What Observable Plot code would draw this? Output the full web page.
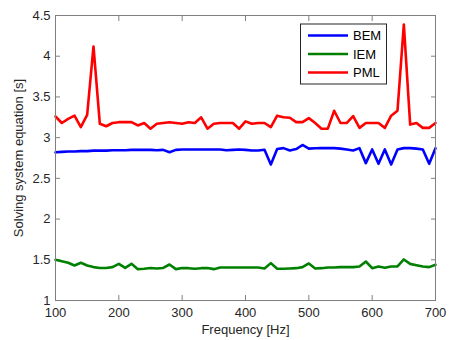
<!DOCTYPE html>
<html><head><meta charset="utf-8">
<script src="https://cdn.jsdelivr.net/npm/d3@7"></script>
<script src="https://cdn.jsdelivr.net/npm/@observablehq/plot@0.6"></script>
<style>body{margin:0;background:#fff}#chart{width:449px;height:340px}</style>
</head><body><div id="chart"></div>
<script>
const freq = [100,110,120,130,140,150,160,170,180,190,200,210,220,230,240,250,260,270,280,290,300,310,320,330,340,350,360,370,380,390,400,410,420,430,440,450,460,470,480,490,500,510,520,530,540,550,560,570,580,590,600,610,620,630,640,650,660,670,680,690,700];
const bem = [2.82,2.825,2.83,2.83,2.835,2.835,2.84,2.84,2.84,2.845,2.845,2.845,2.85,2.85,2.85,2.85,2.845,2.85,2.82,2.85,2.855,2.855,2.855,2.855,2.855,2.855,2.855,2.845,2.85,2.855,2.85,2.843,2.843,2.851,2.67,2.86,2.871,2.843,2.86,2.91,2.865,2.87,2.871,2.871,2.871,2.865,2.855,2.843,2.871,2.687,2.855,2.679,2.855,2.671,2.855,2.871,2.871,2.865,2.855,2.679,2.871];
const iem = [1.50,1.483,1.463,1.43,1.463,1.43,1.41,1.40,1.40,1.41,1.45,1.40,1.45,1.385,1.39,1.40,1.393,1.40,1.442,1.385,1.40,1.397,1.389,1.397,1.40,1.385,1.405,1.405,1.405,1.405,1.405,1.405,1.405,1.393,1.459,1.389,1.389,1.393,1.397,1.41,1.455,1.393,1.397,1.405,1.405,1.41,1.41,1.41,1.418,1.479,1.397,1.418,1.401,1.418,1.418,1.504,1.45,1.434,1.418,1.41,1.438];
const pml = [3.26,3.18,3.23,3.27,3.13,3.28,4.12,3.17,3.14,3.18,3.19,3.19,3.19,3.15,3.18,3.11,3.17,3.18,3.19,3.18,3.17,3.19,3.18,3.25,3.11,3.17,3.18,3.18,3.18,3.11,3.20,3.17,3.18,3.18,3.13,3.27,3.25,3.245,3.19,3.19,3.24,3.18,3.11,3.11,3.33,3.18,3.18,3.265,3.12,3.18,3.18,3.18,3.12,3.27,3.33,4.39,3.16,3.18,3.12,3.12,3.18];
const seriesNames = ["BEM","IEM","PML"];
const seriesColors = ["#0000ff","#008000","#ff0000"];
const xTicks = [100,200,300,400,500,600,700];
const yTicks = [1,1.5,2,2.5,3,3.5,4,4.5];
const yTickLabels = ["1","1.5","2","2.5","3","3.5","4","4.5"];
const xLabel = "Frequency [Hz]";
const yLabel = "Solving system equation [s]";

const seriesValues = [bem, iem, pml];
const rows = [];
seriesNames.forEach((name, i) => {
  freq.forEach((f, j) => rows.push({series: name, freq: f, value: seriesValues[i][j]}));
});

const axisGray = "#808080";
const plot = Plot.plot({
  width: 449, height: 340,
  marginLeft: 55, marginRight: 14, marginTop: 15, marginBottom: 40,
  style: {fontFamily: "'Liberation Sans', Arial, sans-serif", fontSize: "13px", color: "#262626", background: "#fff"},
  x: {domain: [100, 700]},
  y: {domain: [1, 4.5]},
  color: {domain: seriesNames, range: seriesColors},
  marks: [
    Plot.axisX(xTicks, {anchor: "bottom", tickSize: 0, tickPadding: 7, label: null}),
    Plot.axisY(yTicks, {anchor: "left", tickSize: 0, tickPadding: 5, label: null, tickFormat: (d, i) => yTickLabels[i]}),
    Plot.axisX(xTicks, {anchor: "bottom", tickSize: -5, tickFormat: () => "", label: null, stroke: axisGray}),
    Plot.axisX(xTicks, {anchor: "top", tickSize: -5, tickFormat: () => "", label: null, stroke: axisGray}),
    Plot.axisY(yTicks, {anchor: "left", tickSize: -5, tickFormat: () => "", label: null, stroke: axisGray}),
    Plot.axisY(yTicks, {anchor: "right", tickSize: -5, tickFormat: () => "", label: null, stroke: axisGray}),
    Plot.line(rows, {x: "freq", y: "value", z: "series", stroke: "series", strokeWidth: 2.6, strokeLinejoin: "round"}),
    Plot.frame({stroke: axisGray}),
    Plot.text([xLabel], {frameAnchor: "bottom", dy: 29, lineAnchor: "middle", text: d => d, fill: "#262626"}),
    Plot.text([yLabel], {frameAnchor: "left", dx: -37, rotate: -90, textAnchor: "middle", lineAnchor: "middle", text: d => d, fill: "#262626"})
  ]
});
document.getElementById("chart").appendChild(plot);

// legend inside plot area (top-right)
const svg = d3.select(plot);
const lg = svg.append("g").attr("transform", `translate(${449 - 14 - 48 - 87},${15 + 8.5})`);
lg.append("rect").attr("x", 0.5).attr("y", 0.5).attr("width", 86).attr("height", 60)
  .attr("fill", "#fff").attr("stroke", "#262626").attr("stroke-width", 1);
seriesNames.forEach((name, i) => {
  const y = 12 + i * 18.5;
  lg.append("line").attr("x1", 8).attr("x2", 48).attr("y1", y).attr("y2", y)
    .attr("stroke", seriesColors[i]).attr("stroke-width", 2.6);
  lg.append("text").attr("x", 53).attr("y", y).attr("dy", "0.35em")
    .attr("text-anchor", "start").attr("fill", "#000")
    .style("font-size", "13px").text(name);
});
</script>
</body></html>
